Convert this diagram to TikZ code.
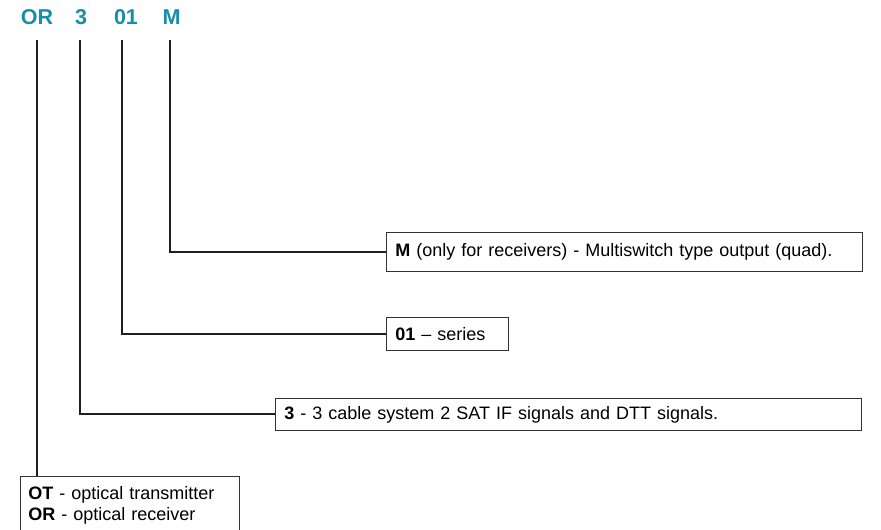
\documentclass[tikz,border=0pt]{standalone}
\usepackage{fontspec}
\setmainfont{Liberation Sans}
\colorlet{leaderColor}{black!88}
\definecolor{codeColor}{RGB}{22,142,168}
\colorlet{boxColor}{black!80}
\tikzstyle{codeLabel}=[font=\fontsize{21.5}{24}\selectfont\bfseries,text=codeColor,minimum height=46pt,inner sep=0pt]
\tikzstyle{descBox}=[draw=boxColor,line width=0.8pt,font=\fontsize{18}{21}\selectfont,align=left,inner xsep=9pt,inner ysep=0pt,anchor=north west]
\tikzstyle{leader}=[leaderColor,line width=2pt]

\begin{document}
\begin{tikzpicture}[x=1pt,y=-1pt]
\useasboundingbox (0,0) rectangle (881,530);
        % code letters
        \node[codeLabel] (lOR) at (37,17) {OR};
        \node[codeLabel] (lThree) at (81,17) {3};
        \node[codeLabel] (lSeries) at (126,17) {01};
        \node[codeLabel] (lM) at (171.5,17) {M};
        % descriptions
        \node[descBox,text width=458pt,minimum height=39pt] (bM) at (386,232) 
                {\textbf{M} (only for receivers) - Multiswitch type output (quad).};
        \node[descBox,text width=104pt,minimum height=33pt] (bSeries) at (386,317) 
                {\textbf{01} -- series};
        \node[descBox,text width=568pt,minimum height=32pt] (bThree) at (275,398) 
                {\textbf{3} - 3 cable system 2 SAT IF signals and DTT signals.};
        \node[descBox,inner xsep=8pt,text width=203pt,minimum height=58pt] (bOR) at (20,476) 
                {\textbf{OT} - optical transmitter\\\textbf{OR} - optical receiver};
        % leaders
        \draw[leader] ([xshift=-1.5pt]lM.south) |- (bM.west);
        \draw[leader] ([xshift=-4pt]lSeries.south) |- (bSeries.west);
        \draw[leader] ([xshift=-1pt]lThree.south) |- (bThree.west);
        \draw[leader] (lOR.south) -- (lOR.south |- bOR.north);
\end{tikzpicture}
\end{document}
